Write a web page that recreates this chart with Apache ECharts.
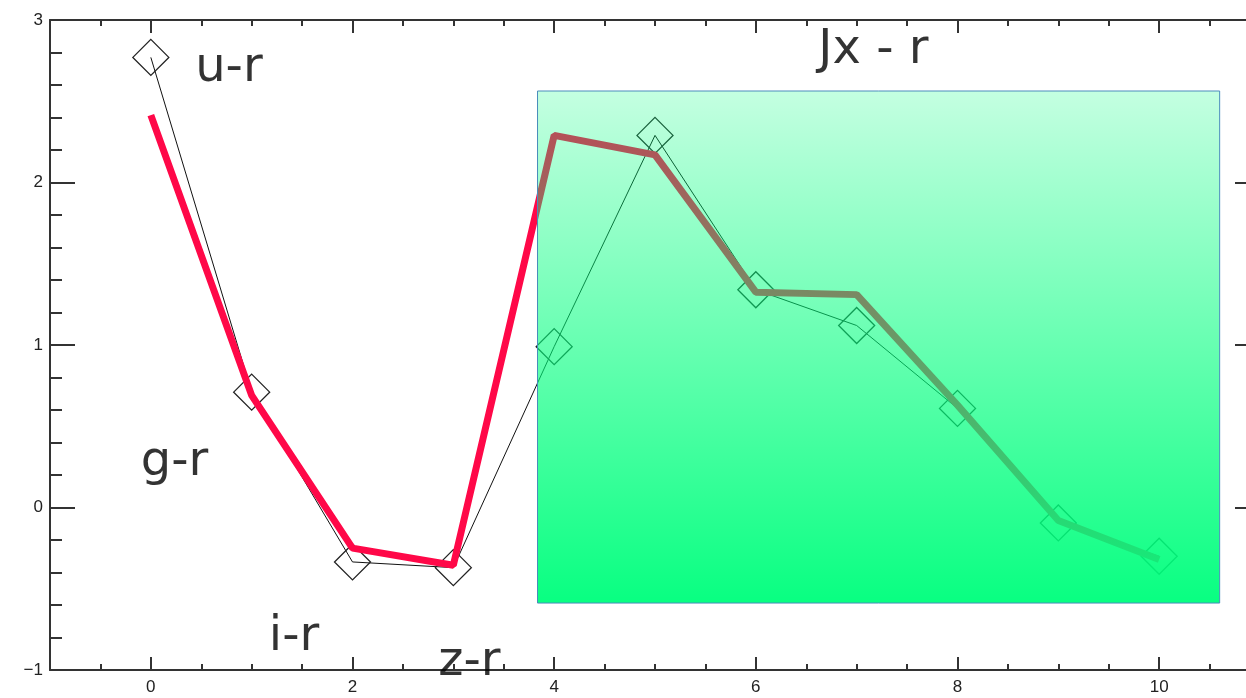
<!DOCTYPE html>
<html>
<head>
<meta charset="utf-8">
<script src="https://cdn.jsdelivr.net/npm/echarts@6/dist/echarts.min.js"></script>
<style>
  html, body { margin: 0; padding: 0; background: #fff; overflow: hidden; }
  /* the frame's right edge runs a little past the visible window */
  #chart { width: 1262px; height: 698px; }
</style>
</head>
<body>
<div id="chart"></div>
<script>
// Colour index positions (x) and the two colour curves
const xs = [0, 1, 2, 3, 4, 5, 6, 7, 8, 9, 10];
const observed = [2.77, 0.71, -0.335, -0.37, 0.99, 2.29, 1.34, 1.12, 0.61, -0.095, -0.30];
const model = [2.415, 0.69, -0.25, -0.355, 2.29, 2.17, 1.325, 1.31, 0.63, -0.08, -0.32];

// Axis ranges and labelled ticks
const xRange = [-1, 11];
const yRange = [-1, 3];
const xLabelTicks = [0, 2, 4, 6, 8, 10];

// Band names placed in data coordinates: [x, y, text]
const notes = [
  [0.44, 2.70, 'u-r'],
  [-0.1, 0.275, 'g-r'],
  [1.17, -0.80, 'i-r'],
  [2.85, -0.955, 'z-r'],
  [6.62, 2.81, 'Jx - r']
];

// Shaded panel corners: [x0, y0, x1, y1]
const panel = [3.835, 2.563, 10.6, -0.588];

const axisColor = '#333';
const tickFont = { fontFamily: 'Liberation Sans', fontSize: 17, color: '#222' };

function xAxisBase(position, longTicks, showLabels) {
  const ax = {
    type: 'value',
    position: position,
    min: xRange[0],
    max: xRange[1],
    interval: longTicks ? 1 : 0.5,
    axisLine: { show: !longTicks, onZero: false, lineStyle: { color: axisColor, width: 2 } },
    axisTick: {
      show: true,
      inside: true,
      length: longTicks ? 13 : 6,
      lineStyle: { color: axisColor, width: 2 }
    },
    axisLabel: { show: false },
    splitLine: { show: false }
  };
  if (longTicks) {
    ax.axisTick.customValues = xLabelTicks;
    if (showLabels) {
      ax.axisLabel = Object.assign({ show: true, margin: 9, customValues: xLabelTicks }, tickFont);
    }
  }
  return ax;
}

function yAxisBase(position, showLabels) {
  return {
    type: 'value',
    position: position,
    min: yRange[0],
    max: yRange[1],
    interval: 1,
    axisLine: { show: true, onZero: false, lineStyle: { color: axisColor, width: 2 } },
    axisTick: { show: true, inside: true, length: 25, lineStyle: { color: axisColor, width: 2 } },
    minorTick: { show: true, splitNumber: 5, length: 12, lineStyle: { color: axisColor, width: 2 } },
    axisLabel: Object.assign({
      show: showLabels,
      margin: 7,
      formatter: v => String(v).replace('-', '\u2212')
    }, tickFont),
    splitLine: { show: false },
    minorSplitLine: { show: false }
  };
}

const chart = echarts.init(document.getElementById('chart'), null, { renderer: 'canvas' });

chart.setOption({
  animation: false,
  backgroundColor: '#fff',
  grid: { left: 50, top: 20, right: 2, bottom: 28, containLabel: false, outerBoundsMode: 'none' },
  xAxis: [
    xAxisBase('bottom', false, false),
    xAxisBase('bottom', true, true),
    xAxisBase('top', false, false),
    xAxisBase('top', true, false)
  ],
  yAxis: [
    yAxisBase('left', true),
    yAxisBase('right', false)
  ],
  series: [
    {
      name: 'observed',
      type: 'line',
      xAxisIndex: 0,
      yAxisIndex: 0,
      data: xs.map((x, i) => [x, observed[i]]),
      symbol: 'diamond',
      symbolSize: 36,
      showAllSymbol: true,
      lineStyle: { color: '#111', width: 1 },
      itemStyle: { color: 'rgba(0,0,0,0)', borderColor: '#222', borderWidth: 1.3 },
      z: 2
    },
    {
      name: 'model',
      type: 'line',
      xAxisIndex: 0,
      yAxisIndex: 0,
      data: xs.map((x, i) => [x, model[i]]),
      showSymbol: false,
      lineStyle: { color: '#ff0848', width: 7 },
      z: 3
    },
    {
      name: 'panel',
      type: 'custom',
      xAxisIndex: 0,
      yAxisIndex: 0,
      clip: false,
      z: 10,
      data: [panel],
      encode: { x: [0, 2], y: [1, 3] },
      renderItem: function (params, api) {
        const p0 = api.coord([api.value(0), api.value(1)]);
        const p1 = api.coord([api.value(2), api.value(3)]);
        return {
          type: 'rect',
          shape: { x: p0[0], y: p0[1], width: p1[0] - p0[0], height: p1[1] - p0[1] },
          style: {
            fill: new echarts.graphic.LinearGradient(0, 0, 0, 1, [
              { offset: 0, color: 'rgba(0,255,125,0.23)' },
              { offset: 1, color: 'rgba(0,255,125,0.97)' }
            ]),
            stroke: '#4a8cbc',
            lineWidth: 1
          }
        };
      }
    },
    {
      name: 'notes',
      type: 'scatter',
      xAxisIndex: 0,
      yAxisIndex: 0,
      clip: false,
      z: 20,
      symbolSize: 0,
      data: notes.map(n => ({ value: [n[0], n[1]], name: n[2] })),
      label: {
        show: true,
        position: 'right',
        distance: 0,
        formatter: p => p.name,
        fontFamily: 'DejaVu Sans',
        fontSize: 48,
        color: '#000'
      }
    }
  ]
});
</script>
</body>
</html>
